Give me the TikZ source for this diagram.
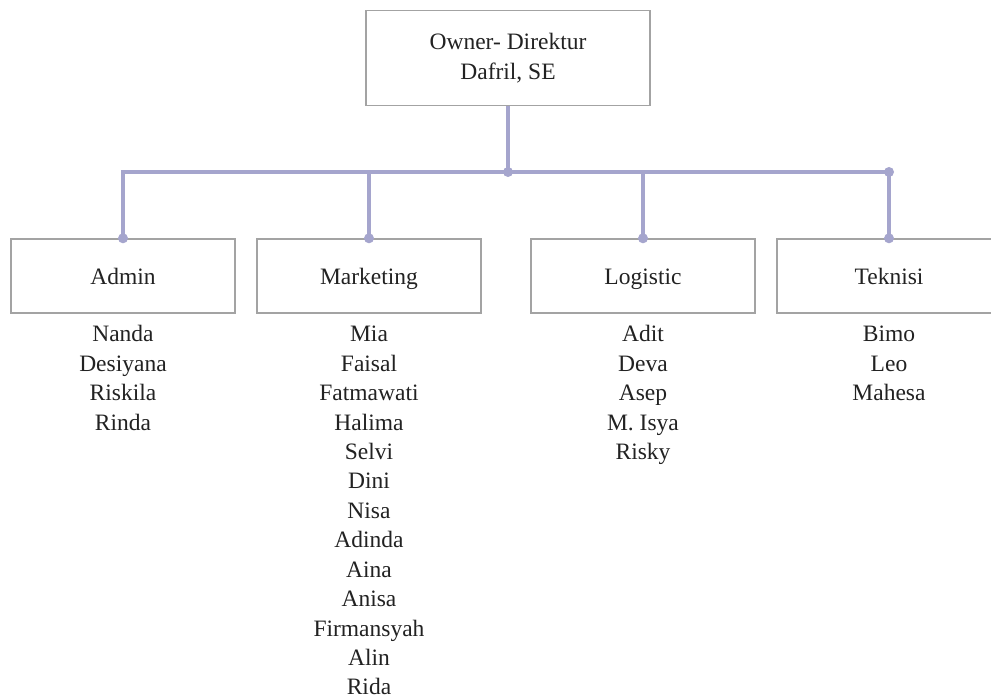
\documentclass[tikz,border=0pt]{standalone}
\usepackage{fontspec}
\setmainfont{Liberation Serif}
\definecolor{conncol}{HTML}{A5A5CD}
\definecolor{boxcol}{HTML}{A3A3A3}
\definecolor{txtcol}{HTML}{222222}
\begin{document}
\begin{tikzpicture}[x=1pt,y=-1pt,
  basebox/.style={draw=boxcol,line width=1.4pt,minimum width=224pt,minimum height=74pt,inner sep=0pt,text=txtcol,font=\fontsize{23.5}{29.4}\selectfont},
  box/.style={basebox,text height=19pt,text depth=2pt},
  topbox/.style={basebox,minimum width=284pt,minimum height=95pt,align=center},
  person/.style={anchor=base,inner sep=0pt,text=txtcol,font=\fontsize{23.5}{29.4}\selectfont},
  conn/.style={draw=conncol,line width=4.2pt},
  dot/.style={fill=conncol}]
\clip (0,0) rectangle (991,700);
\useasboundingbox (0,0) rectangle (991,700);
\fill[white] (0,0) rectangle (991,700);

\node[topbox] (top) at (508,58) {Owner- Direktur\\Dafril, SE};
\node[box] (admin) at (123,276) {Admin};
\node[box] (mkt) at (369,276) {Marketing};
\node[box] (log) at (643,276) {Logistic};
\node[box] (tek) at (889,276) {Teknisi};

\coordinate (junc) at (508,172);

\draw[conn] (top.south) -- (junc);
\draw[conn,line join=miter] (admin.north) -- (admin.north |- junc) -- (tek.north |- junc) -- (tek.north);
\draw[conn] (mkt.north |- junc) -- (mkt.north);
\draw[conn] (log.north |- junc) -- (log.north);
\foreach \b in {admin,mkt,log,tek} \fill[dot] (\b.north) circle (5pt);
\fill[dot] (junc) circle (5pt);
\fill[dot] (tek.north |- junc) circle (5pt);

\foreach \n [count=\i] in {Nanda,Desiyana,Riskila,Rinda}
  \node[person] (adm\i) at (123,{342+(\i-1)*29.4}) {\n};
\foreach \n [count=\i] in {Mia,Faisal,Fatmawati,Halima,Selvi,Dini,Nisa,Adinda,Aina,Anisa,Firmansyah,Alin,Rida}
  \node[person] (mkt\i) at (369,{342+(\i-1)*29.4}) {\n};
\foreach \n [count=\i] in {Adit,Deva,Asep,M. Isya,Risky}
  \node[person] (log\i) at (643,{342+(\i-1)*29.4}) {\n};
\foreach \n [count=\i] in {Bimo,Leo,Mahesa}
  \node[person] (tek\i) at (889,{342+(\i-1)*29.4}) {\n};
\end{tikzpicture}
\end{document}
